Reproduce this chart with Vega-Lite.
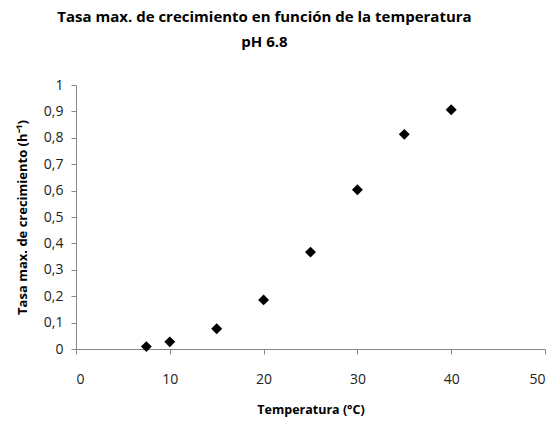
{
  "$schema": "https://vega.github.io/schema/vega-lite/v6.json",
  "width": 469,
  "height": 264,
  "autosize": "none",
  "padding": {"left": 76, "top": 85, "right": 9, "bottom": 75},
  "background": "white",
  "title": {
    "text": ["Tasa max. de crecimiento en función de la temperatura", "pH 6.8"],
    "font": "Open Sans",
    "fontSize": 15,
    "fontWeight": "bold",
    "color": "#000000",
    "anchor": "middle",
    "dx": -46,
    "offset": 28,
    "lineHeight": 25
  },
  "data": {
    "values": [
      {"temperatura": 7.5, "tasa": 0.009},
      {"temperatura": 10, "tasa": 0.027},
      {"temperatura": 15, "tasa": 0.077},
      {"temperatura": 20, "tasa": 0.186},
      {"temperatura": 25, "tasa": 0.367},
      {"temperatura": 30, "tasa": 0.603},
      {"temperatura": 35, "tasa": 0.813},
      {"temperatura": 40, "tasa": 0.906}
    ]
  },
  "mark": {"type": "point", "shape": "diamond", "filled": true, "color": "#000000", "opacity": 1, "size": 120},
  "encoding": {
    "x": {
      "field": "temperatura",
      "type": "quantitative",
      "scale": {"domain": [0, 50], "nice": false, "zero": false},
      "axis": {
        "values": [0, 10, 20, 30, 40, 50],
        "title": "Temperatura (°C)",
        "grid": false,
        "domainColor": "#868686",
        "tickColor": "#868686",
        "tickSize": 5,
        "labelFont": "Open Sans",
        "labelFontSize": 14,
        "labelColor": "#222222",
        "labelPadding": 18,
        "titleFont": "Open Sans",
        "titleFontSize": 12.5,
        "titleFontWeight": "bold",
        "titleColor": "#000000",
        "titlePadding": 17
      }
    },
    "y": {
      "field": "tasa",
      "type": "quantitative",
      "scale": {"domain": [0, 1], "nice": false},
      "axis": {
        "values": [0, 0.1, 0.2, 0.3, 0.4, 0.5, 0.6, 0.7, 0.8, 0.9, 1],
        "labelExpr": "replace(format(datum.value, '~g'), '.', ',')",
        "title": "Tasa max. de crecimiento (h⁻¹)",
        "grid": false,
        "domainColor": "#868686",
        "tickColor": "#868686",
        "tickSize": 5,
        "labelFont": "Open Sans",
        "labelFontSize": 14,
        "labelColor": "#222222",
        "labelPadding": 8,
        "titleFont": "Open Sans",
        "titleFontSize": 13,
        "titleFontWeight": "bold",
        "titleColor": "#000000",
        "titlePadding": 14
      }
    }
  },
  "config": {"view": {"stroke": null}}
}
